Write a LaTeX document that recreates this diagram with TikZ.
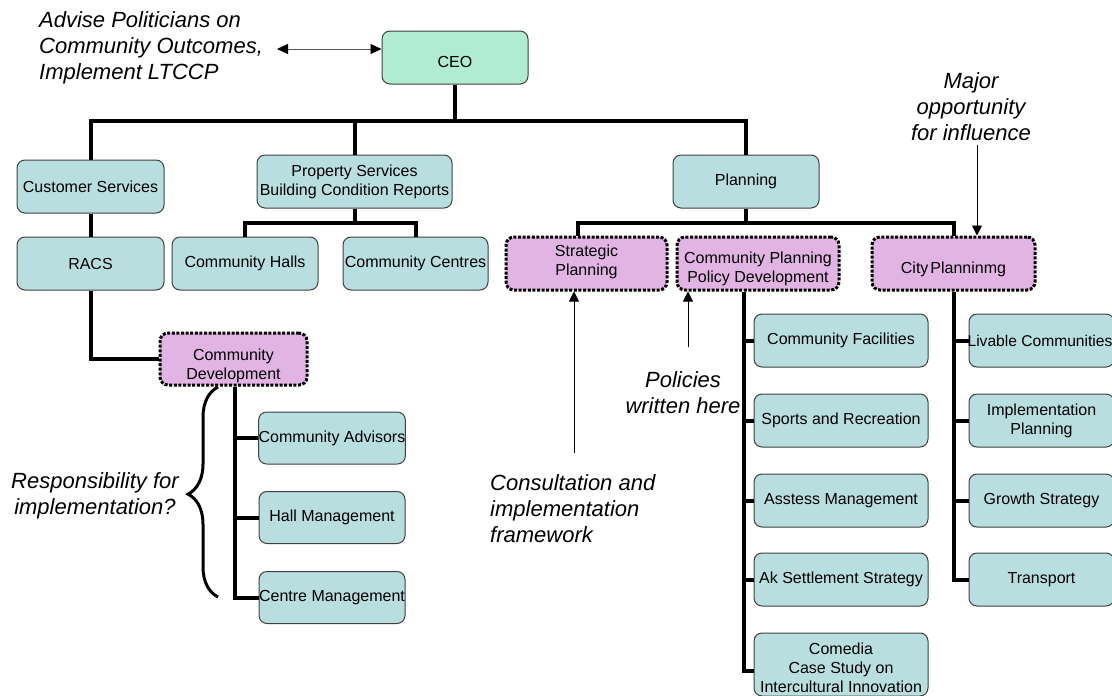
\documentclass[tikz,border=0pt]{standalone}
\usepackage{fontspec}
\setmainfont{Liberation Sans}
\usetikzlibrary{arrows.meta,decorations.pathreplacing}

\definecolor{tealbox}{HTML}{B9DEE0}
\definecolor{ceofill}{HTML}{B0ECD0}
\definecolor{pinkfill}{HTML}{E2B4E4}
\definecolor{boxline}{HTML}{404040}
\definecolor{shaft}{HTML}{555555}

\newcommand\boxfont{\fontsize{16}{19}\selectfont}
\newcommand\notefont{\fontsize{22}{26}\selectfont\itshape}
% stacked, centred lines moved up or down without changing the box size
\newcommand\movedlines[2]{\raisebox{#1}[\height][\depth]{\begin{tabular}{@{}c@{}}#2\end{tabular}}}

\begin{document}
\begin{tikzpicture}[x=1pt,y=-1pt,
  box/.style={draw=boxline, line width=1pt, rounded corners=8pt, fill=tealbox,
    minimum width=146pt, minimum height=53pt, inner sep=0pt, align=center, font=\boxfont},
  ceobox/.style={box, fill=ceofill},
  pinkbox/.style={box, fill=pinkfill, draw=black, line width=3pt, dash pattern=on 3pt off 1.6pt},
  conn/.style={line width=4pt, black},
  note/.style={font=\notefont, inner sep=0pt},
  ptr/.style={line width=0.9pt, black, -{Triangle[length=10pt,width=10pt]}},
]
\useasboundingbox (0,0) rectangle (1112,696);

% ---- boxes ----
\node[ceobox] (ceo) at (455,57.5) {\movedlines{-6pt}{CEO}};

\node[box, minimum width=147pt] (cust) at (90.5,186.5) {Customer Services};
\node[box, minimum width=147pt] (racs) at (90.5,263.5) {RACS};

\node[box, minimum width=195pt] (prop) at (354.5,181.5) {Property Services\\Building Condition Reports};
\node[box] (halls) at (245,263.5) {Community Halls};
\node[box, minimum width=145pt] (centres) at (415.5,263.5) {Community Centres};

\node[pinkbox, minimum width=147pt, minimum height=52pt] (cd) at (233.5,359)
  {\movedlines{-7pt}{Community\\Development}};
\node[box, minimum height=52pt] (ca) at (332,438) {Community Advisors};
\node[box, minimum height=52pt] (hm) at (332,517.5) {Hall Management};
\node[box, minimum height=52pt] (cm) at (332,597.5) {Centre Management};

\node[box] (plan) at (746,181.5) {Planning};
\node[pinkbox, minimum width=161pt] (strat) at (586.5,263.5)
  {\movedlines{1.5pt}{Strategic\\Planning}};
\node[pinkbox, minimum width=162pt] (cppd) at (758,263.5)
  {\movedlines{-6pt}{Community Planning\\Policy Development}};
\node[pinkbox, minimum width=163pt] (city) at (953.5,263.5) {\movedlines{-6pt}{City\kern2pt Planninmg}};

\node[box, minimum width=174pt] (fac) at (841,340.5) {Community Facilities};
\node[box, minimum width=174pt] (sport) at (841,420.5) {Sports and Recreation};
\node[box, minimum width=174pt] (asst) at (841,500.5) {Asstess Management};
\node[box, minimum width=174pt] (ak) at (841,579.5) {Ak Settlement Strategy};
\node[box, minimum width=174pt, minimum height=63pt] (comedia) at (841,664.5) {};
\node[font=\boxfont, align=center, inner sep=0pt] (comediatext) at (841,668)
  {Comedia\\Case Study on\\Intercultural Innovation};

\node[box, minimum width=145pt] (liv) at (1041.5,340.5) {};
\node[font=\fontsize{15.6}{19}\selectfont, inner sep=0pt] (livtext) at (1040,340.5) {Livable Communities};
\node[box, minimum width=145pt] (impl) at (1041.5,420.5) {Implementation\\Planning};
\node[box, minimum width=145pt] (grow) at (1041.5,500.5) {Growth Strategy};
\node[box, minimum width=145pt] (trans) at (1041.5,579.5) {Transport};

% ---- tree connectors ----
\coordinate (bus) at (0,121);
\coordinate (pbus) at (0,223);
\coordinate (plbus) at (0,223);

\draw[conn] (cust.north) |- (plan.north |- bus) -- (plan.north);
\draw[conn] (ceo.south) -- (ceo.south |- bus);
\draw[conn] (prop.north) -- (prop.north |- bus);

\draw[conn] (cust.south) -- (racs.north);
\draw[conn] (racs.south) |- (cd.west);

\draw[conn] (halls.north) |- (centres.north |- pbus) -- (centres.north);
\draw[conn] (prop.south) -- (prop.south |- pbus);

\coordinate (cdx) at ([xshift=1.5pt]cd.south);
\draw[conn] (cdx) |- (cm.west);
\draw[conn] (ca.west) -- (ca.west -| cdx);
\draw[conn] (hm.west) -- (hm.west -| cdx);

\coordinate (stx) at ([xshift=-8.5pt]strat.north);
\draw[conn] (stx) |- (city.north |- plbus) -- (city.north);
\draw[conn] (plan.south) -- (plan.south |- plbus);

\coordinate (cpx) at ([xshift=-14pt]cppd.south);
\coordinate (comin) at ([yshift=-6.5pt]comedia.west);
\draw[conn] (cpx) |- (comin);
\draw[conn] (fac.west) -- (fac.west -| cpx);
\draw[conn] (sport.west) -- (sport.west -| cpx);
\draw[conn] (asst.west) -- (asst.west -| cpx);
\draw[conn] (ak.west) -- (ak.west -| cpx);

\draw[conn] (city.south) |- (trans.west);
\draw[conn] (liv.west) -- (liv.west -| city.south);
\draw[conn] (impl.west) -- (impl.west -| city.south);
\draw[conn] (grow.west) -- (grow.west -| city.south);

% ---- annotations ----
\node[note, align=left, anchor=west] (advise) at (39,48)
  {Advise Politicians on\\Community Outcomes,\\Implement LTCCP};
\coordinate (advtip) at (277,49);
\draw[line width=0.9pt, shaft, {Triangle[length=11pt,width=10pt,color=black]}-{Triangle[length=11pt,width=10pt,color=black]}]
  (advtip) -- (advtip -| ceo.west);

\node[note, align=center] (major) at (971,106.5) {Major\\opportunity\\for influence};
\coordinate (majfoot) at (977,145);
\draw[ptr] (majfoot) -- (majfoot |- city.north);

\node[note, align=center] (policies) at (683,392.5) {Policies\\written here};
\coordinate (polfoot) at (688,347);
\draw[ptr] (polfoot) -- (polfoot |- cppd.south);

\node[note, align=left, anchor=west] (consult) at (490,508.5)
  {Consultation and\\implementation\\framework};
\coordinate (confoot) at (574,453);
\draw[ptr] (confoot) -- (confoot |- strat.south);

\node[note, align=center] (resp) at (95,495.5) {Responsibility for\\implementation?};
\coordinate (brbot) at (218,597);
\coordinate (brtop) at (218,387);
\draw[line width=3pt, decorate, decoration={brace, amplitude=30pt, aspect=0.49}]
  (brbot) -- (brtop);
\end{tikzpicture}
\end{document}
